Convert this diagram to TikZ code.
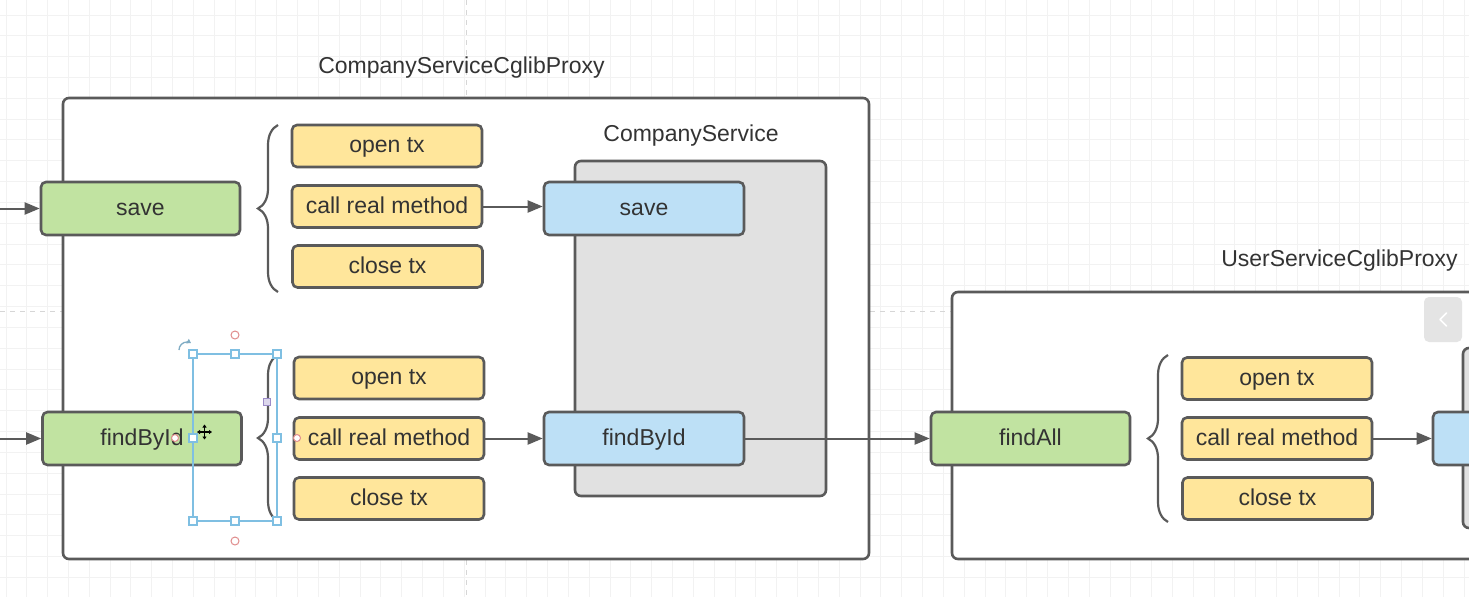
\documentclass[tikz,border=0pt]{standalone}
\usepackage{fontspec}
\setmainfont{Liberation Sans}
\usetikzlibrary{arrows.meta,decorations.pathreplacing}

\definecolor{edge}{HTML}{5A5A5A}
\definecolor{txt}{HTML}{333333}
\definecolor{greenf}{HTML}{C1E3A1}
\definecolor{yellowf}{HTML}{FFE69B}
\definecolor{bluef}{HTML}{BDE0F6}
\definecolor{grayf}{HTML}{E1E1E1}
\definecolor{gridc}{HTML}{F2F2F2}
\definecolor{pagec}{HTML}{D6D6D6}
\definecolor{selc}{HTML}{7FBFE2}
\definecolor{hdlred}{HTML}{E08C8C}
\definecolor{hdlpurple}{HTML}{9C8CC8}
\definecolor{btnf}{HTML}{E4E4E4}

\tikzset{
  box/.style={draw=edge, line width=2.6pt, rounded corners=5pt, inner sep=0pt,
    text=txt, font=\fontsize{23}{27}\selectfont, text height=18pt, text depth=5pt},
  greenbox/.style={box, fill=greenf, minimum width=199pt, minimum height=53pt},
  bluebox/.style={box, fill=bluef, minimum width=200pt, minimum height=53pt},
  yellowbox/.style={box, fill=yellowf, minimum width=190pt, minimum height=42pt},
  frame/.style={draw=edge, line width=2.6pt, rounded corners=6pt, fill=white, inner sep=0pt},
  innerframe/.style={draw=edge, line width=2.6pt, rounded corners=6pt, fill=grayf, inner sep=0pt},
  title/.style={text=txt, font=\fontsize{23}{27}\selectfont, inner sep=0pt, anchor=base},
  arr/.style={draw=edge, line width=2pt, -{Triangle[length=15pt,width=12pt]}},
  curly/.style={draw=edge, line width=2.2pt, decorate, decoration={brace, amplitude=20pt}},
  handle/.style={draw=selc, fill=white, line width=1.2pt, minimum size=8pt, inner sep=0pt},
  ring/.style={circle, draw=hdlred, fill=white, line width=1pt, minimum size=8pt, inner sep=0pt},
}

\begin{document}
\begin{tikzpicture}[x=1pt, y=-1pt]
\useasboundingbox (0,0) rectangle (1469,597);
\clip (0,0) rectangle (1469,597);

% canvas grid and page breaks
\fill[white] (0,0) rectangle (1469,597);
\foreach \i in {0,...,70} \draw[gridc, line width=1pt] ({6+20.83*\i},0) -- ++(0,597);
\foreach \j in {0,...,28} \draw[gridc, line width=1pt] (0,{15+20.83*\j}) -- ++(1469,0);
\draw[pagec, line width=1pt, dash pattern=on 5pt off 5pt] (466.5,0) -- (466.5,597);
\draw[pagec, line width=1pt, dash pattern=on 5pt off 5pt] (0,311) -- (1469,311);

% proxy containers
\node[frame, minimum width=806pt, minimum height=461pt] (proxyA) at (466,328.5) {};
\node[title] (proxyAtitle) at (461.5,73.5) {CompanyServiceCglibProxy};
\node[frame, minimum width=568pt, minimum height=267pt] (proxyB) at (1236,425.5) {};
\node[title] (proxyBtitle) at (1339.5,266.5) {UserServiceCglibProxy};

% real service objects
\node[innerframe, minimum width=251pt, minimum height=335pt] (svcA) at (700.5,328.5) {};
\node[title] (svcAtitle) at (691,141) {CompanyService};
\node[innerframe, minimum width=120pt, minimum height=180pt] (svcB) at (1523,438) {};

% proxy methods
\node[greenbox] (saveP) at (140.5,208.5) {save};
\node[greenbox] (findP) at (142,438.5) {findById};
\node[greenbox] (findAllP) at (1030.5,438.5) {findAll};

% transaction steps
\node[yellowbox] (openA) at (387,146) {open tx};
\node[yellowbox] (callA) at (387,206.5) {call real method};
\node[yellowbox] (closeA) at (387.5,266.5) {close tx};
\node[yellowbox] (openB) at (389,378) {open tx};
\node[yellowbox] (callB) at (389,438.5) {call real method};
\node[yellowbox] (closeB) at (389,498.5) {close tx};
\node[yellowbox] (openC) at (1277,378.5) {open tx};
\node[yellowbox] (callC) at (1277,438.5) {call real method};
\node[yellowbox] (closeC) at (1277.5,498.5) {close tx};

% target methods
\node[bluebox] (saveT) at (644,208.5) {save};
\node[bluebox] (findT) at (644,438.5) {findById};
\node[bluebox] (findAllT) at (1533,438.5) {};

% braces
\draw[curly] (278,292) -- (278,125);
\draw[curly] (278,521) -- (278,355);
\draw[curly] (1168,522) -- (1168,355);

% calls
\coordinate (inA) at (0,208.5);
\coordinate (inB) at (0,438.5);
\draw[arr] (inA) -- (saveP.west);
\draw[arr] (inB) -- (findP.west);
\draw[arr] (callA.east) -- (callA.east -| saveT.west);
\draw[arr] (callB.east) -- (findT.west);
\draw[arr] (findT.east) -- (findAllP.west);
\draw[arr] (callC.east) -- (findAllT.west);

% selection handles around the lower brace
\draw[selc, line width=1.2pt] (193,354) rectangle (277,521);
\node[ring] (rotTop) at (235,335) {};
\node[ring] (rotBot) at (235,541) {};
\node[ring, minimum size=7pt] (linkL) at (175,438) {};
\node[ring, minimum size=7pt] (linkR) at (297,438) {};
\foreach \p/\n in {{193,354}/h1,{235,354}/h2,{277,354}/h3,{193,438}/h4,{277,438}/h5,{193,521}/h6,{235,521}/h7,{277,521}/h8}
  \node[handle] (\n) at (\p) {};
\node[draw=hdlpurple, fill=hdlpurple!35, line width=1pt, minimum size=7pt, inner sep=0pt] (bend) at (267,402) {};
\draw[selc!70!gray, line width=1.3pt, -{Triangle[length=4pt,width=5pt]}] (179,350) arc[start angle=180, end angle=60, radius=8pt];
\draw[black, line width=1.3pt, {Triangle[length=3pt,width=4pt]}-{Triangle[length=3pt,width=4pt]}] (197,432) -- (212,432);
\draw[black, line width=1.3pt, {Triangle[length=3pt,width=4pt]}-{Triangle[length=3pt,width=4pt]}] (204.5,424.5) -- (204.5,439.5);

% collapse button at the right edge
\node[fill=btnf, rounded corners=5pt, minimum width=38pt, minimum height=45pt, inner sep=0pt] (collapse) at (1443,319.5) {};
\draw[white, line width=1.6pt, line cap=round, line join=round] (1446.5,313) -- (1440,319.5) -- (1446.5,326);
\end{tikzpicture}
\end{document}
